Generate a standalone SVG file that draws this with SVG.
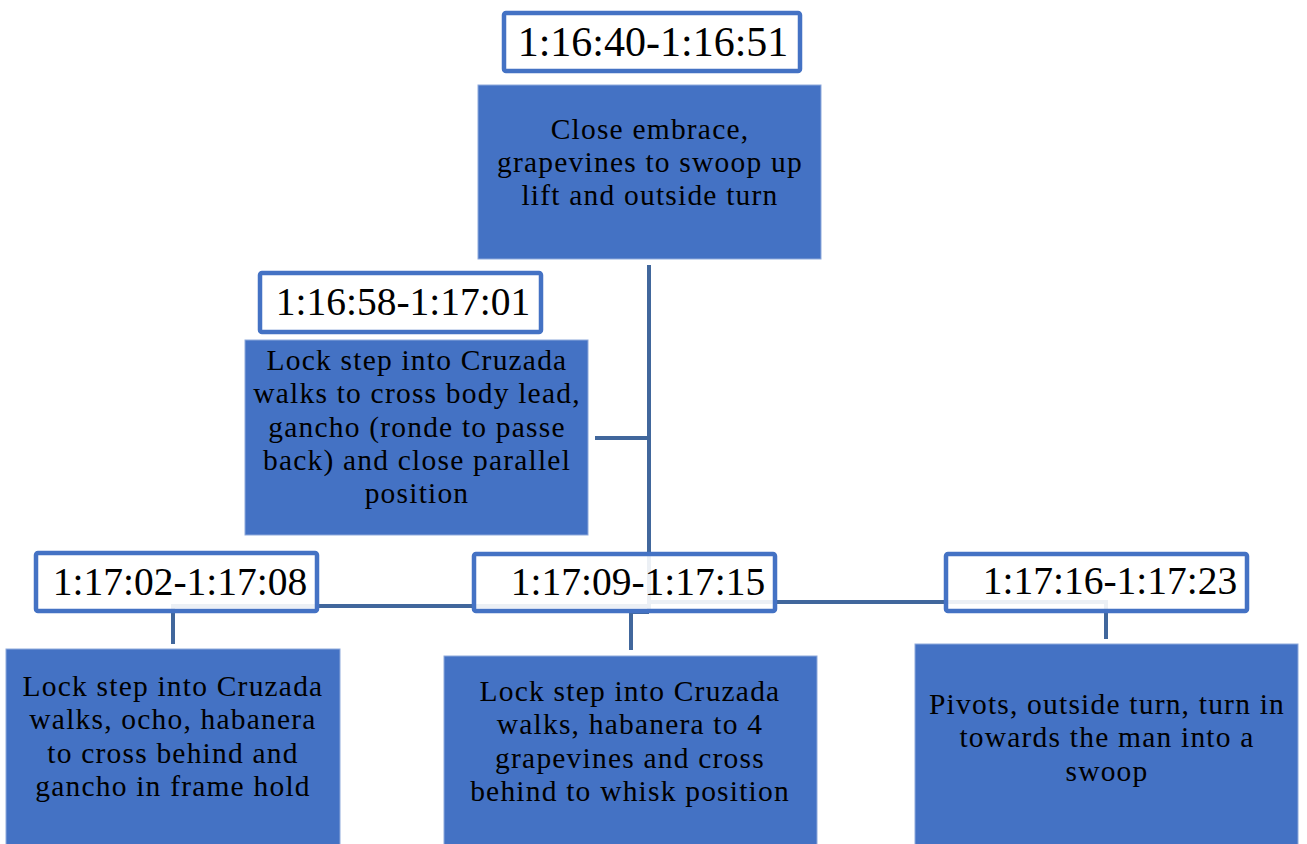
<svg xmlns="http://www.w3.org/2000/svg" width="1307" height="844" viewBox="0 0 1307 844">
<style>
.bg{fill:#ffffff}
.lbl{fill:#ffffff;fill-opacity:0.9;stroke:#4472C4;stroke-width:4.5}
.box{fill:#4472C4;stroke:#8EA9DB;stroke-width:1}
.conn{fill:none;stroke:#41679C;stroke-width:4}
.t{font-family:"Liberation Serif","Times New Roman",serif;fill:#000000;text-anchor:middle}
.ts{font-size:39.5px}
.tb{font-size:29.5px;letter-spacing:1.2px}
</style>
<rect class="bg" x="0" y="0" width="1307" height="844"/>
<g id="connectors">
<path class="conn" d="M649,265 V612"/>
<path class="conn" d="M649,438 H595"/>
<path class="conn" d="M173,644 V606 H649"/>
<path class="conn" d="M649,602 H1106 V639"/>
<path class="conn" d="M649,612 H631 V650"/>
</g>
<g id="n1-time">
<rect class="lbl" x="504" y="13" width="296" height="58" rx="2"/>
<text class="t" x="653" y="56" style="font-size:42px">1:16:40-1:16:51</text>
</g>
<g id="n1">
<rect class="box" x="478" y="85" width="343" height="174"/>
<text class="t tb" x="650" y="139"><tspan x="650">Close embrace,</tspan><tspan x="650" dy="33">grapevines to swoop up</tspan><tspan x="650" dy="33">lift and outside turn</tspan></text>
</g>
<g id="n2-time">
<rect class="lbl" x="260" y="273" width="281" height="59" rx="2"/>
<text class="t ts" x="403" y="315">1:16:58-1:17:01</text>
</g>
<g id="n2">
<rect class="box" x="245" y="340" width="343" height="195"/>
<text class="t tb" x="417" y="370"><tspan x="417">Lock step into Cruzada</tspan><tspan x="417" dy="33.3">walks to cross body lead,</tspan><tspan x="417" dy="33.3">gancho (ronde to passe</tspan><tspan x="417" dy="33.3">back) and close parallel</tspan><tspan x="417" dy="33.3">position</tspan></text>
</g>
<g id="n3-time">
<rect class="lbl" x="36" y="553" width="281" height="58" rx="2"/>
<text class="t ts" x="180" y="595">1:17:02-1:17:08</text>
</g>
<g id="n3">
<rect class="box" x="6" y="649" width="334" height="200"/>
<text class="t tb" x="173" y="696"><tspan x="173">Lock step into Cruzada</tspan><tspan x="173" dy="33.3">walks, ocho, habanera</tspan><tspan x="173" dy="33.3">to cross behind and</tspan><tspan x="173" dy="33.3">gancho in frame hold</tspan></text>
</g>
<g id="n4-time">
<rect class="lbl" x="474" y="554" width="301" height="57" rx="2"/>
<text class="t ts" x="638" y="595">1:17:09-1:17:15</text>
</g>
<g id="n4">
<rect class="box" x="444" y="656" width="373" height="200"/>
<text class="t tb" x="630" y="701"><tspan x="630">Lock step into Cruzada</tspan><tspan x="630" dy="33.3">walks, habanera to 4</tspan><tspan x="630" dy="33.3">grapevines and cross</tspan><tspan x="630" dy="33.3">behind to whisk position</tspan></text>
</g>
<g id="n5-time">
<rect class="lbl" x="946" y="554" width="301" height="57" rx="2"/>
<text class="t ts" x="1110" y="594">1:17:16-1:17:23</text>
</g>
<g id="n5">
<rect class="box" x="915" y="644" width="383" height="210"/>
<text class="t tb" x="1107" y="714"><tspan x="1107">Pivots, outside turn, turn in</tspan><tspan x="1107" dy="33.3">towards the man into a</tspan><tspan x="1107" dy="33.3">swoop</tspan></text>
</g>
</svg>
